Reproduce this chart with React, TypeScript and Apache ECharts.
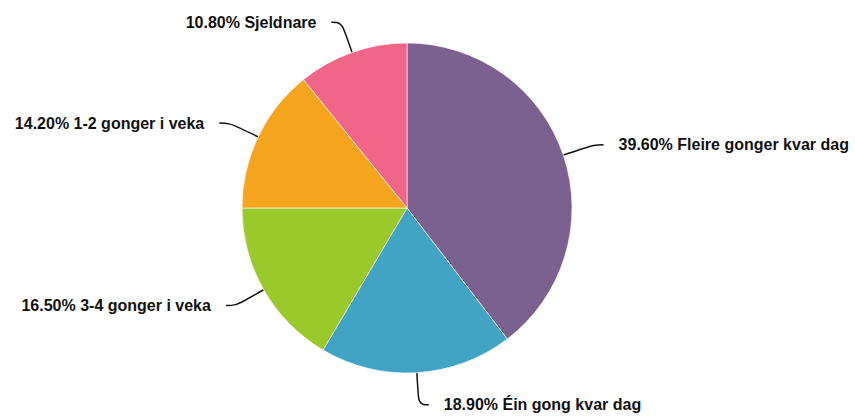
import React, { useEffect, useRef } from "react";
import * as echarts from "echarts";

const categories = [
  "Fleire gonger kvar dag",
  "Éin gong kvar dag",
  "3-4 gonger i veka",
  "1-2 gonger i veka",
  "Sjeldnare",
];
const values = [39.6, 18.9, 16.5, 14.2, 10.8];
const colors = ["#7b6190", "#42a4c5", "#99c92b", "#f5a51d", "#f06688"];

export default function App() {
  const ref = useRef<HTMLDivElement>(null);
  useEffect(() => {
    document.body.style.margin = "0";
    const chart = echarts.init(ref.current!, null, { renderer: "svg" });
    chart.setOption({
      animation: false,
      color: colors,
      series: [
        {
          type: "pie",
          center: [407, 208],
          radius: 165,
          startAngle: 90,
          clockwise: true,
          avoidLabelOverlap: true,
          data: categories.map((name, i) => ({ name, value: values[i] })),
          itemStyle: { borderColor: "#ffffff", borderWidth: 0.6 },
          label: {
            show: true,
            position: "outside",
            formatter: (p: any) => `${p.value.toFixed(2)}% ${p.name}`,
            fontFamily: "Liberation Sans, Arial, sans-serif",
            fontWeight: "bold",
            fontSize: 16,
            color: "#111111",
            distanceToLabelLine: 15,
            bleedMargin: 0,
            overflow: "none",
          },
          labelLine: {
            show: true,
            length: 32,
            length2: 10,
            smooth: 0.4,
            lineStyle: { color: "#111111", width: 1.5 },
          },
          emphasis: { disabled: true },
        },
      ],
    });
    return () => chart.dispose();
  }, []);
  return (
    <div
      ref={ref}
      style={{ position: "absolute", left: 0, top: 0, width: 855, height: 420 }}
    />
  );
}
